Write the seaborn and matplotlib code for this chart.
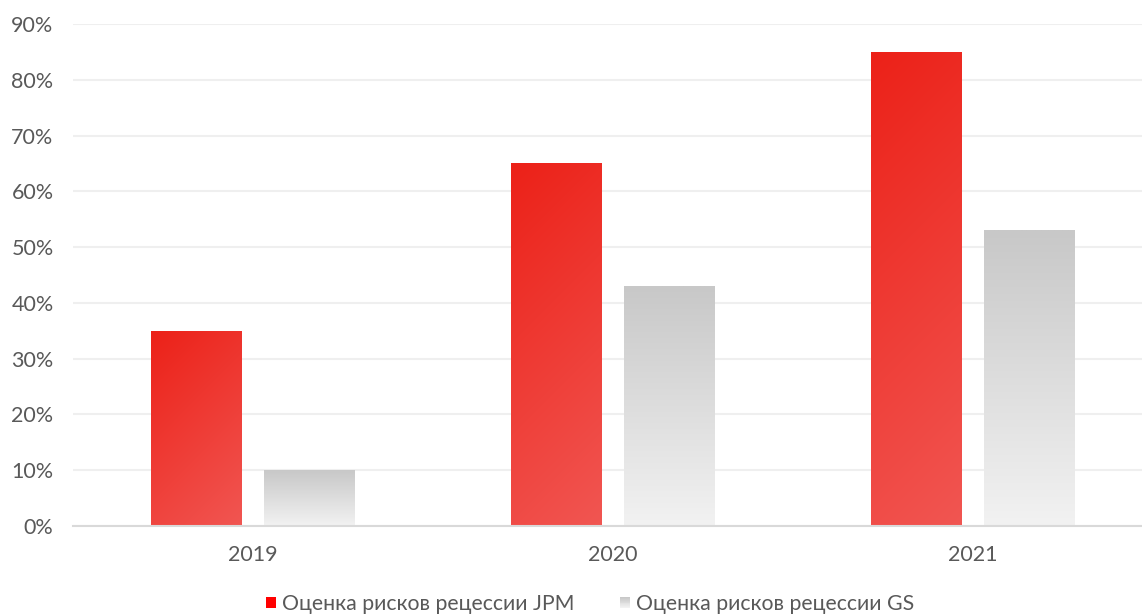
import numpy as np
import pandas as pd
import matplotlib
matplotlib.use("Agg")
import matplotlib.pyplot as plt
from matplotlib.legend_handler import HandlerBase
from matplotlib.patches import Rectangle
from matplotlib.ticker import FuncFormatter
import seaborn as sns

years = ["2019", "2020", "2021"]
jpm_risk = [35, 65, 85]
gs_risk = [10, 43, 53]
series_names = ["Оценка рисков рецессии JPM", "Оценка рисков рецессии GS"]

df = pd.DataFrame({
    "year": years * 2,
    "value": jpm_risk + gs_risk,
    "series": [series_names[0]] * 3 + [series_names[1]] * 3,
})

sns.set_theme(style="white")
plt.rcParams["font.family"] = ["Lato", "DejaVu Sans"]
TEXT = "#595959"
FS = 15.5

fig = plt.figure(figsize=(11.42, 6.16), dpi=100)
ax = fig.add_axes([73 / 1142, 90 / 616, 1080 / 1142, 502 / 616])

sns.barplot(data=df, x="year", y="value", hue="series", hue_order=series_names,
            palette=["#EE3B33", "#D0D0D0"], width=0.628, gap=0.195,
            legend=False, ax=ax, zorder=3)

ax.set_xlim(-0.5, 2.5)
ax.set_ylim(0, 90)

RED_A = np.array([236, 33, 24]) / 255
RED_B = np.array([241, 86, 82]) / 255
GREY_A = np.array([200, 200, 200]) / 255
GREY_B = np.array([242, 242, 242]) / 255

# pixel scale of one data unit, keeps the red gradient at 45 degrees on screen
px_x = 1080 / 3.0
px_y = 502 / 90.0


def red_gradient(w, h, n=200):
    wp, hp = w * px_x, h * px_y
    u = np.linspace(0, 1, n)[None, :]
    v = np.linspace(0, 1, n)[:, None]
    t = (u * wp + v * hp) / (wp + hp)
    return RED_A + (RED_B - RED_A) * t[..., None]


def grey_gradient(w, h, n=200):
    v = np.linspace(0, 1, n)[:, None] * np.ones((1, 2))
    return GREY_A + (GREY_B - GREY_A) * v[..., None]


for container, maker in zip(ax.containers, [red_gradient, grey_gradient]):
    for bar in container:
        x0, y0 = bar.get_x(), bar.get_y()
        w, h = bar.get_width(), bar.get_height()
        img = ax.imshow(maker(w, h), extent=[x0, x0 + w, y0, y0 + h], origin="upper",
                        aspect="auto", zorder=3, interpolation="bilinear")
        img.set_clip_path(bar)
        bar.set_facecolor("none")
        bar.set_edgecolor("none")

ax.set_xlim(-0.5, 2.5)
ax.set_ylim(0, 90)
ax.set_yticks(np.arange(0, 91, 10))
ax.yaxis.set_major_formatter(FuncFormatter(lambda x, _: f"{x:.0f}%"))
ax.grid(axis="y", color="#EFEFEF", linewidth=1.5, zorder=0)
ax.grid(axis="x", visible=False)
for s in ["top", "right", "left"]:
    ax.spines[s].set_visible(False)
ax.spines["bottom"].set_color("#D9D9D9")
ax.spines["bottom"].set_linewidth(1.5)
ax.spines["bottom"].set_zorder(4)
ax.tick_params(axis="y", length=0, pad=14, labelsize=FS, labelcolor=TEXT)
ax.tick_params(axis="x", length=0, pad=14, labelsize=FS, labelcolor=TEXT)
ax.set_xlabel("")
ax.set_ylabel("")


class GradientSquare(HandlerBase):
    """Small legend square filled with a vertical colour ramp."""

    def __init__(self, top, bottom, strips=12):
        super().__init__()
        self.top, self.bottom, self.strips = top, bottom, strips

    def create_artists(self, legend, orig_handle, xdescent, ydescent, width,
                       height, fontsize, trans):
        size = 7.4
        x = -xdescent + width - size
        y = -ydescent + (height - size) / 2
        arts = []
        for i in range(self.strips):
            t = i / (self.strips - 1)
            c = self.bottom + (self.top - self.bottom) * t
            arts.append(Rectangle((x, y + size * i / self.strips), size,
                                  size / self.strips + 0.3, facecolor=c,
                                  edgecolor="none", transform=trans))
        return arts


h_red = Rectangle((0, 0), 1, 1)
h_grey = Rectangle((0, 0), 1, 1)
leg = fig.legend([h_red, h_grey], series_names, loc="center",
                 bbox_to_anchor=(0.5 + 19 / 1142, 12 / 616), ncol=2, frameon=False,
                 fontsize=15.3, labelcolor=TEXT, handlelength=0.5, handleheight=0.7,
                 handletextpad=0.3, columnspacing=2.1,
                 handler_map={h_red: GradientSquare(np.array([1, 0, 0]), np.array([1, 0, 0]), 2),
                              h_grey: GradientSquare(GREY_A, GREY_B)})

fig.savefig("out.png", dpi=100)
